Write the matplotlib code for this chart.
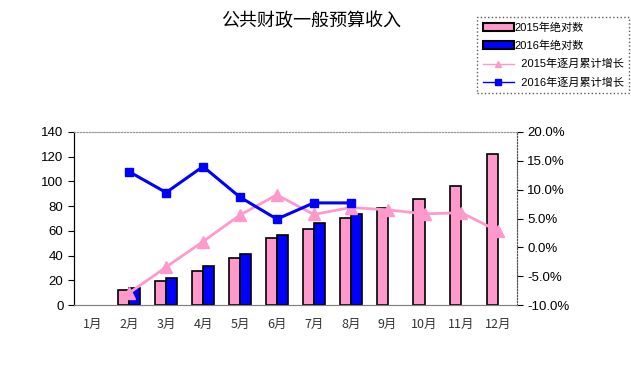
import matplotlib
matplotlib.use('Agg')
import matplotlib.pyplot as plt
from matplotlib.patches import Patch
from matplotlib.lines import Line2D
from matplotlib.ticker import FuncFormatter
import numpy as np

plt.rcParams['font.family'] = ['Liberation Sans', 'Noto Sans CJK SC']

# data (January has no value)
months = ['1月', '2月', '3月', '4月', '5月', '6月', '7月', '8月', '9月', '10月', '11月', '12月']
abs_2015 = [None, 12.5, 19.5, 27.5, 37.8, 54, 61.5, 70.1, 78.7, 85.8, 96, 122]
abs_2016 = [None, 14, 21.8, 31.8, 41, 56.4, 66.3, 73.4]
grow_2015 = [None, -7.9, -3.4, 1.0, 5.6, 9.1, 5.7, 6.9, 6.5, 5.8, 6.0, 2.8]
grow_2016 = [None, 13.1, 9.5, 14.0, 8.7, 4.9, 7.7, 7.7]

pink = '#FF99CC'
blue = '#0000FF'


def arr(vals):
    return np.array([np.nan if v is None else v for v in vals], dtype=float)


fig = plt.figure(figsize=(6.31, 3.80), dpi=100)
ax = fig.add_axes([0.117, 0.197, 0.702, 0.456])
ax2 = ax.twinx()

x = np.arange(len(months))
w = 0.3
b15 = arr(abs_2015)
b16 = arr(abs_2016)
ok15 = ~np.isnan(b15)
ok16 = ~np.isnan(b16)
ax.bar(x[ok15] - w/2, b15[ok15], w, color=pink, edgecolor='black', linewidth=1.2)
ax.bar(x[:len(b16)][ok16] + w/2, b16[ok16], w, color=blue, edgecolor='black', linewidth=1.2)

g15 = arr(grow_2015)
g16 = arr(grow_2016)
ax2.plot(x, g15, color=pink, lw=2, marker='^', ms=8)
ax2.plot(x[:len(g16)], g16, color=blue, lw=2.2, marker='s', ms=6)

ax.set_xlim(-0.5, 11.5)
ax.set_ylim(0, 140)
ax.set_yticks(range(0, 141, 20))
ax2.set_ylim(-10, 20)
ax2.set_yticks(range(-10, 21, 5))
ax2.yaxis.set_major_formatter(FuncFormatter(lambda v, p: '%.1f%%' % v))

ax.set_xticks(x)
ax.set_xticklabels(months, fontsize=9, color='#333333', family=['Noto Sans CJK SC'])
ax.tick_params(axis='x', length=0, pad=9)
ax.tick_params(axis='y', labelsize=9.5, length=4, direction='out', color='black')
ax2.tick_params(axis='y', labelsize=9.5, length=4, direction='out', color='black')

for a in (ax, ax2):
    a.spines['top'].set_color('#999999')
    a.spines['top'].set_linestyle(':')
    a.spines['bottom'].set_color('#808080')
    a.spines['right'].set_color('#555555')
    a.spines['right'].set_linestyle(':')
    a.spines['left'].set_color('black')

fig.text(0.493, 0.945, '公共财政一般预算收入', ha='center', va='center', fontsize=13,
         family=['Noto Sans CJK SC'])

handles = [
    Patch(facecolor=pink, edgecolor='black', linewidth=1.5),
    Patch(facecolor=blue, edgecolor='black', linewidth=1.5),
    Line2D([], [], color=pink, lw=1, marker='^', ms=5),
    Line2D([], [], color=blue, lw=1, marker='s', ms=5),
]
labels = ['2015年绝对数', '2016年绝对数', '  2015年逐月累计增长', '  2016年逐月累计增长']
leg = fig.legend(handles, labels, loc='upper left', bbox_to_anchor=(0.756, 0.955),
                 borderaxespad=0, fontsize=8, frameon=True, fancybox=False, borderpad=0.5,
                 handlelength=2.8, handletextpad=0.1, labelspacing=0.7)
leg.get_frame().set_edgecolor('#333333')
leg.get_frame().set_linestyle(':')
leg.get_frame().set_linewidth(1)

plt.savefig('out.png', dpi=100)
